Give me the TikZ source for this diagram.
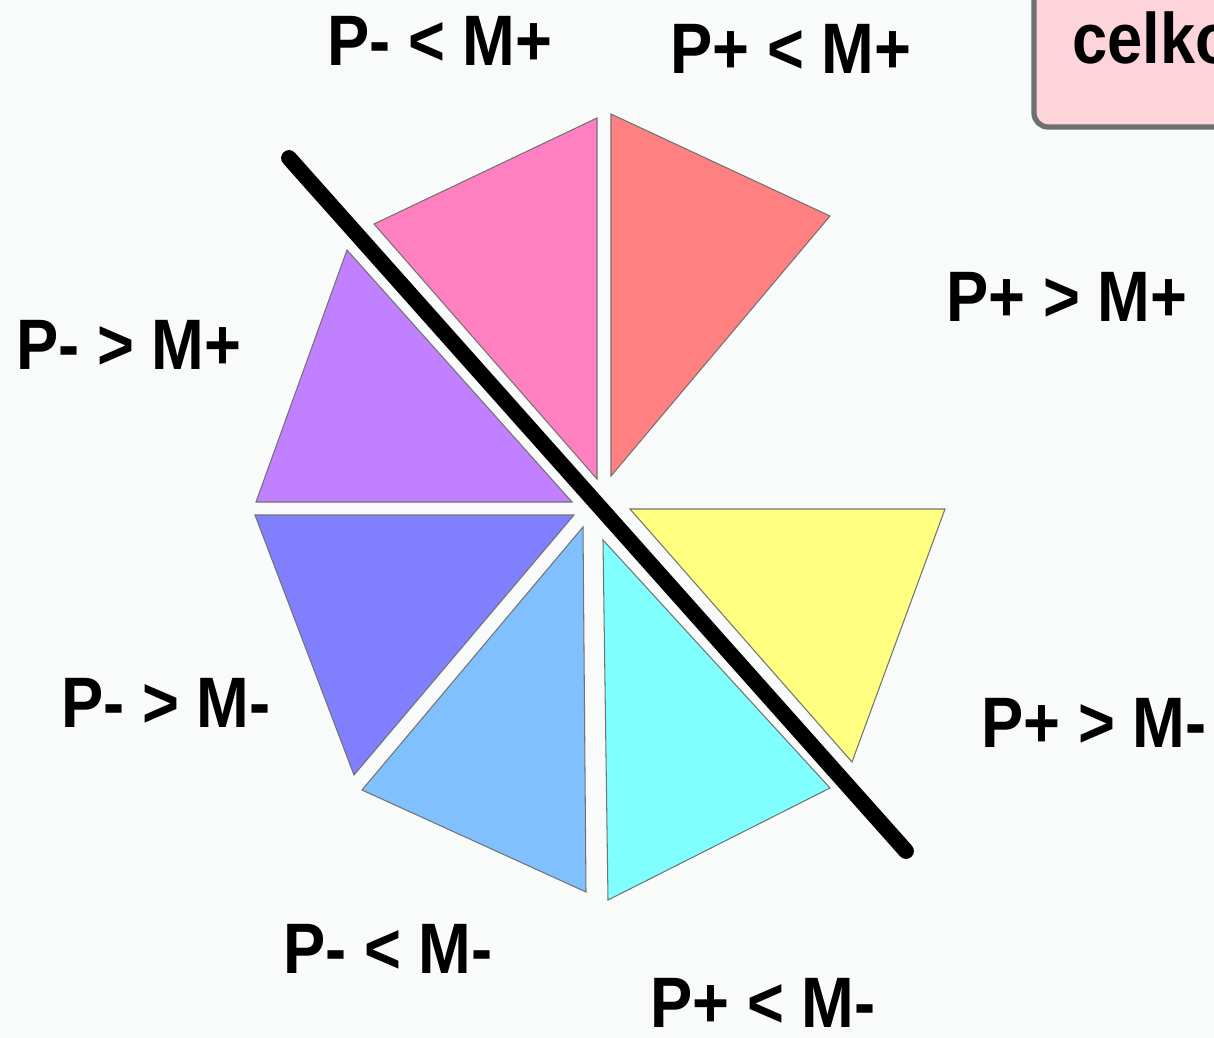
\documentclass[tikz,border=0pt]{standalone}
\usepackage{fontspec}
\setmainfont{Liberation Sans}
\definecolor{paper}{RGB}{249,250,250}
\definecolor{wedgePink}{RGB}{255,128,192}
\definecolor{wedgeSalmon}{RGB}{255,128,128}
\definecolor{wedgeViolet}{RGB}{192,128,255}
\definecolor{wedgeBlue}{RGB}{128,128,255}
\definecolor{wedgeSky}{RGB}{128,192,255}
\definecolor{wedgeCyan}{RGB}{128,255,255}
\definecolor{wedgeYellow}{RGB}{255,255,128}
\definecolor{boxPink}{RGB}{252,212,218}
\definecolor{boxRim}{RGB}{110,112,112}
\newcommand{\relfont}{\fontsize{36}{40}\selectfont\bfseries}

\begin{document}
\begin{tikzpicture}[x=0.02cm, y=-0.02cm,
  wedge/.style={draw=gray!90!black, line width=0.6pt},
  relation/.style={font=\relfont, inner sep=0pt, yscale=1.13, transform shape},
  divider/.style={line width=9pt, line cap=round}]
\useasboundingbox (0,0) rectangle (1214,1038);
\clip (0,0) rectangle (1214,1038);
\fill[paper] (0,0) rectangle (1214,1038);

% title box, cut off by the right edge
\draw[fill=boxPink, draw=boxRim, line width=3pt, rounded corners=8pt]
  (1034,-30) rectangle (1320,127);
\node[relation, anchor=base west] (title) at (1072,63) {celko};

% upper half
\fill[wedge, fill=wedgePink]   (597,118) -- (374,224) -- (597,479) -- cycle;
\fill[wedge, fill=wedgeSalmon] (611,114) -- (830,216) -- (611,476) -- cycle;
\fill[wedge, fill=wedgeViolet] (347,250) -- (256,502) -- (572,502) -- cycle;

% lower half
\fill[wedge, fill=wedgeBlue]   (255,515) -- (574,515) -- (354,775) -- cycle;
\fill[wedge, fill=wedgeSky]    (583,527) -- (362,790) -- (586,892) -- cycle;
\fill[wedge, fill=wedgeCyan]   (603,540) -- (608,900) -- (830,788) -- cycle;
\fill[wedge, fill=wedgeYellow] (630,509) -- (945,509) -- (852,762) -- cycle;

% dividing line
\coordinate (cutA) at (289,158);
\coordinate (cutB) at (906,851);
\draw[divider] (cutA) -- (cutB);

% relations
\node[relation] (pmMp) at (440,41)   {P- < M+};
\node[relation] (ppMp) at (791,49)   {P+ < M+};
\node[relation] (pgMp) at (1067,297) {P+ > M+};
\node[relation] (mgMp) at (129,345)  {P- > M+};
\node[relation] (mgMm) at (166,703)  {P- > M-};
\node[relation] (pgMm) at (1094,723) {P+ > M-};
\node[relation] (mlMm) at (388,949)  {P- < M-};
\node[relation] (plMm) at (763,1003) {P+ < M-};
\end{tikzpicture}
\end{document}
